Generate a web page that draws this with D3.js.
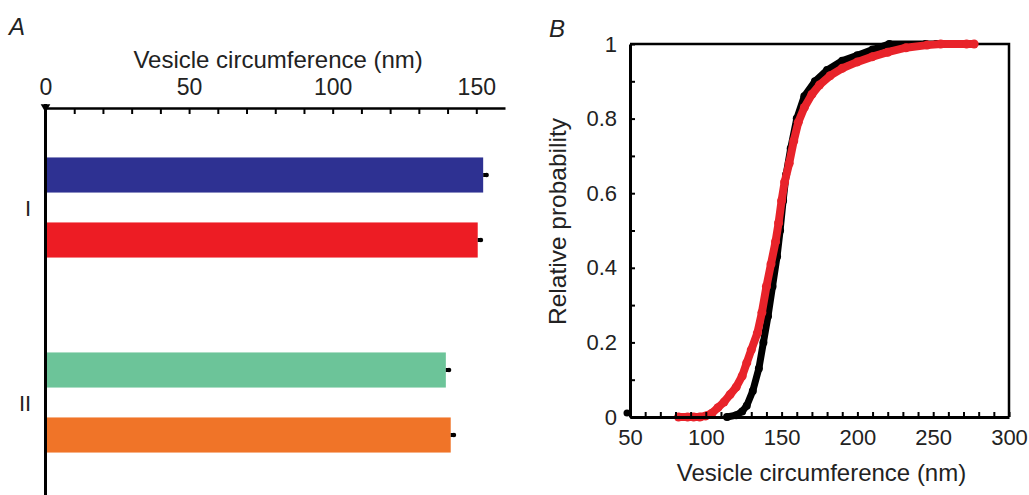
<!DOCTYPE html>
<html>
<head>
<meta charset="utf-8">
<script src="https://cdn.jsdelivr.net/npm/d3@7"></script>
<style>
  body { margin: 0; background: #fff; }
  svg text { font-family: "Liberation Sans", Arial, sans-serif; fill: #222; }
</style>
</head>
<body>
<div id="chart"></div>
<script>
// panel A: mean vesicle circumference per group
var groups = ["I", "II"];
var rows = ["I-a", "I-b", "gap", "II-a", "II-b"];
var barRows = ["I-a", "I-b", "II-a", "II-b"];
var barValues = [152.4, 150.5, 139.4, 141.1];
var barErrors = [1.2, 1.1, 1.1, 1.1];
var barColors = ["#2e3192", "#ed1c24", "#6cc499", "#f07428"];
var groupRows = [["I-a", "I-b"], ["II-a", "II-b"]];
var ticksA = [0, 50, 100, 150];

// panel B: cumulative distributions
var blackX = [114, 120, 124, 127, 131, 135, 138, 141, 144, 147, 149, 151, 153, 156, 160, 165, 172, 180, 190, 200, 210, 221, 245, 252, 255];
var blackY = [0, 0.005, 0.015, 0.03, 0.07, 0.13, 0.2, 0.27, 0.35, 0.43, 0.5, 0.58, 0.65, 0.72, 0.8, 0.86, 0.9, 0.93, 0.955, 0.97, 0.985, 1, 1, 1, 1];
var redX = [82, 88, 92, 96, 100, 104, 108, 112, 116, 120, 124, 127, 130, 134, 137, 140, 143, 146, 148, 150, 152, 155, 158, 161, 165, 170, 175, 182, 190, 200, 210, 220, 232, 246, 255, 272, 277];
var redY = [0, 0, 0, 0, 0.003, 0.01, 0.025, 0.04, 0.06, 0.08, 0.11, 0.145, 0.18, 0.225, 0.28, 0.35, 0.41, 0.47, 0.52, 0.58, 0.63, 0.68, 0.74, 0.79, 0.83, 0.865, 0.89, 0.915, 0.935, 0.952, 0.966, 0.978, 0.99, 0.997, 1, 1, 1];
var ticksBx = [50, 100, 150, 200, 250, 300];
var ticksBy = [0, 0.2, 0.4, 0.6, 0.8, 1];

var W = 1029, H = 495;
var svg = d3.select("#chart").append("svg")
  .attr("width", W)
  .attr("height", H);

// ---------- panel A ----------
var xA = d3.scaleLinear().domain([0, 160]).range([45.5, 505]);
var yA = d3.scaleBand().domain(rows).range([142.5, 467.5])
  .paddingInner(0.46).paddingOuter(0.23);
var axisY = 108;

svg.append("text").attr("x", 9).attr("y", 35)
  .style("font-size", "24px").style("font-style", "italic").text("A");

svg.append("text").attr("x", xA(81)).attr("y", 68)
  .attr("text-anchor", "middle").style("font-size", "24px")
  .text("Vesicle circumference (nm)");

var barData = barRows.map(function(r, i) {
  return { row: r, value: barValues[i], err: barErrors[i], color: barColors[i] };
});

svg.selectAll(".bar").data(barData).enter()
  .append("rect").attr("class", "bar")
  .attr("x", xA(0))
  .attr("y", function(d) { return yA(d.row); })
  .attr("width", function(d) { return xA(d.value) - xA(0); })
  .attr("height", yA.bandwidth())
  .attr("fill", function(d) { return d.color; });

// error ticks
svg.selectAll(".err").data(barData).enter()
  .append("line").attr("class", "err")
  .attr("x1", function(d) { return xA(d.value); })
  .attr("x2", function(d) { return xA(d.value + d.err); })
  .attr("y1", function(d) { return yA(d.row) + yA.bandwidth() / 2; })
  .attr("y2", function(d) { return yA(d.row) + yA.bandwidth() / 2; })
  .attr("stroke", "#000").attr("stroke-width", 4);

svg.selectAll(".errcap").data(barData).enter()
  .append("circle").attr("class", "errcap")
  .attr("cx", function(d) { return xA(d.value + d.err); })
  .attr("cy", function(d) { return yA(d.row) + yA.bandwidth() / 2; })
  .attr("r", 2.3).attr("fill", "#000");

var xAxisA = d3.axisTop(xA)
  .tickValues(d3.range(0, 151, 10))
  .tickSizeInner(-6).tickSizeOuter(0)
  .tickFormat(function(d) { return ticksA.indexOf(d) >= 0 ? d : ""; })
  .tickPadding(13);

var gA = svg.append("g")
  .attr("transform", "translate(0," + axisY + ")")
  .call(xAxisA);
gA.select(".domain").attr("stroke-width", 2.5);
gA.selectAll(".tick line").attr("stroke-width", 2);
gA.selectAll(".tick text").style("font-size", "23px")
  .attr("font-family", null).attr("fill", "#222");

// left spine
svg.append("line")
  .attr("x1", xA(0)).attr("x2", xA(0))
  .attr("y1", axisY - 4).attr("y2", H)
  .attr("stroke", "#000").attr("stroke-width", 3);
svg.append("path")
  .attr("d", d3.symbol().type(d3.symbolTriangle).size(40)())
  .attr("transform", "translate(" + xA(0) + "," + (axisY - 1) + ") rotate(180)")
  .attr("fill", "#000");

svg.selectAll(".grp").data(groups).enter()
  .append("text").attr("class", "grp")
  .attr("x", function(d, i) { return i === 0 ? 28 : 25; })
  .attr("y", function(d, i) {
    var r = groupRows[i];
    return (yA(r[0]) + yA(r[1]) + yA.bandwidth()) / 2 + 8;
  })
  .attr("text-anchor", "middle")
  .style("font-size", "22px")
  .text(function(d) { return d; });

// ---------- panel B ----------
var xB = d3.scaleLinear().domain([50, 300]).range([630, 1009]);
var yB = d3.scaleLinear().domain([0, 1]).range([417, 44]);

svg.append("text").attr("x", 549).attr("y", 37)
  .style("font-size", "24px").style("font-style", "italic").text("B");

// frame top/right
svg.append("path")
  .attr("d", "M" + xB(50) + "," + yB(1) + "H" + xB(300) + "V" + yB(0))
  .attr("fill", "none").attr("stroke", "#000").attr("stroke-width", 2.5);

var lineB = d3.line()
  .x(function(d) { return xB(d[0]); })
  .y(function(d) { return yB(d[1]); });

var blackPts = blackX.map(function(v, i) { return [v, blackY[i]]; });
var redPts = redX.map(function(v, i) { return [v, redY[i]]; });

svg.append("path").datum(blackPts)
  .attr("d", lineB).attr("fill", "none")
  .attr("stroke", "#000").attr("stroke-width", 7);
svg.selectAll(".bpt").data(blackPts).enter()
  .append("circle").attr("class", "bpt")
  .attr("cx", function(d) { return xB(d[0]); })
  .attr("cy", function(d) { return yB(d[1]); })
  .attr("r", 4).attr("fill", "#000");

svg.append("path").datum(redPts)
  .attr("d", lineB).attr("fill", "none")
  .attr("stroke", "#e8232a").attr("stroke-width", 8);
svg.selectAll(".rpt").data(redPts).enter()
  .append("circle").attr("class", "rpt")
  .attr("cx", function(d) { return xB(d[0]); })
  .attr("cy", function(d) { return yB(d[1]); })
  .attr("r", 4.5).attr("fill", "#e8232a");

var xAxisB = d3.axisBottom(xB)
  .tickValues(d3.range(50, 301, 10))
  .tickSizeInner(-5).tickSizeOuter(0)
  .tickFormat(function(d) { return ticksBx.indexOf(d) >= 0 ? d : ""; })
  .tickPadding(12);
var gBx = svg.append("g")
  .attr("transform", "translate(0," + yB(0) + ")")
  .call(xAxisB);
gBx.select(".domain").attr("stroke-width", 3);
gBx.selectAll(".tick line").attr("stroke-width", 2);
gBx.selectAll(".tick text").style("font-size", "22px")
  .attr("font-family", null).attr("fill", "#222");

var yAxisB = d3.axisLeft(yB)
  .tickValues(d3.range(0, 11).map(function(i) { return i / 10; }))
  .tickSizeInner(-5).tickSizeOuter(0)
  .tickFormat(function(d) {
    var hit = ticksBy.filter(function(t) { return Math.abs(t - d) < 1e-9; });
    return hit.length ? d3.format("")(hit[0]) : "";
  })
  .tickPadding(13);
var gBy = svg.append("g")
  .attr("transform", "translate(" + xB(50) + ",0)")
  .call(yAxisB);
gBy.select(".domain").attr("stroke-width", 3);
gBy.selectAll(".tick line").attr("stroke-width", 2);
gBy.selectAll(".tick text").style("font-size", "22px")
  .attr("font-family", null).attr("fill", "#222");

// origin marker
svg.append("circle").attr("cx", xB(50) - 3).attr("cy", yB(0) - 4)
  .attr("r", 3.5).attr("fill", "#000");

svg.append("text")
  .attr("x", (xB(50) + xB(300)) / 2 + 2).attr("y", 481)
  .attr("text-anchor", "middle").style("font-size", "24px")
  .text("Vesicle circumference (nm)");

svg.append("text")
  .attr("transform", "translate(566," + (yB(0.5) - 9) + ") rotate(-90)")
  .attr("text-anchor", "middle").style("font-size", "24.5px")
  .text("Relative probability");
</script>
</body>
</html>
